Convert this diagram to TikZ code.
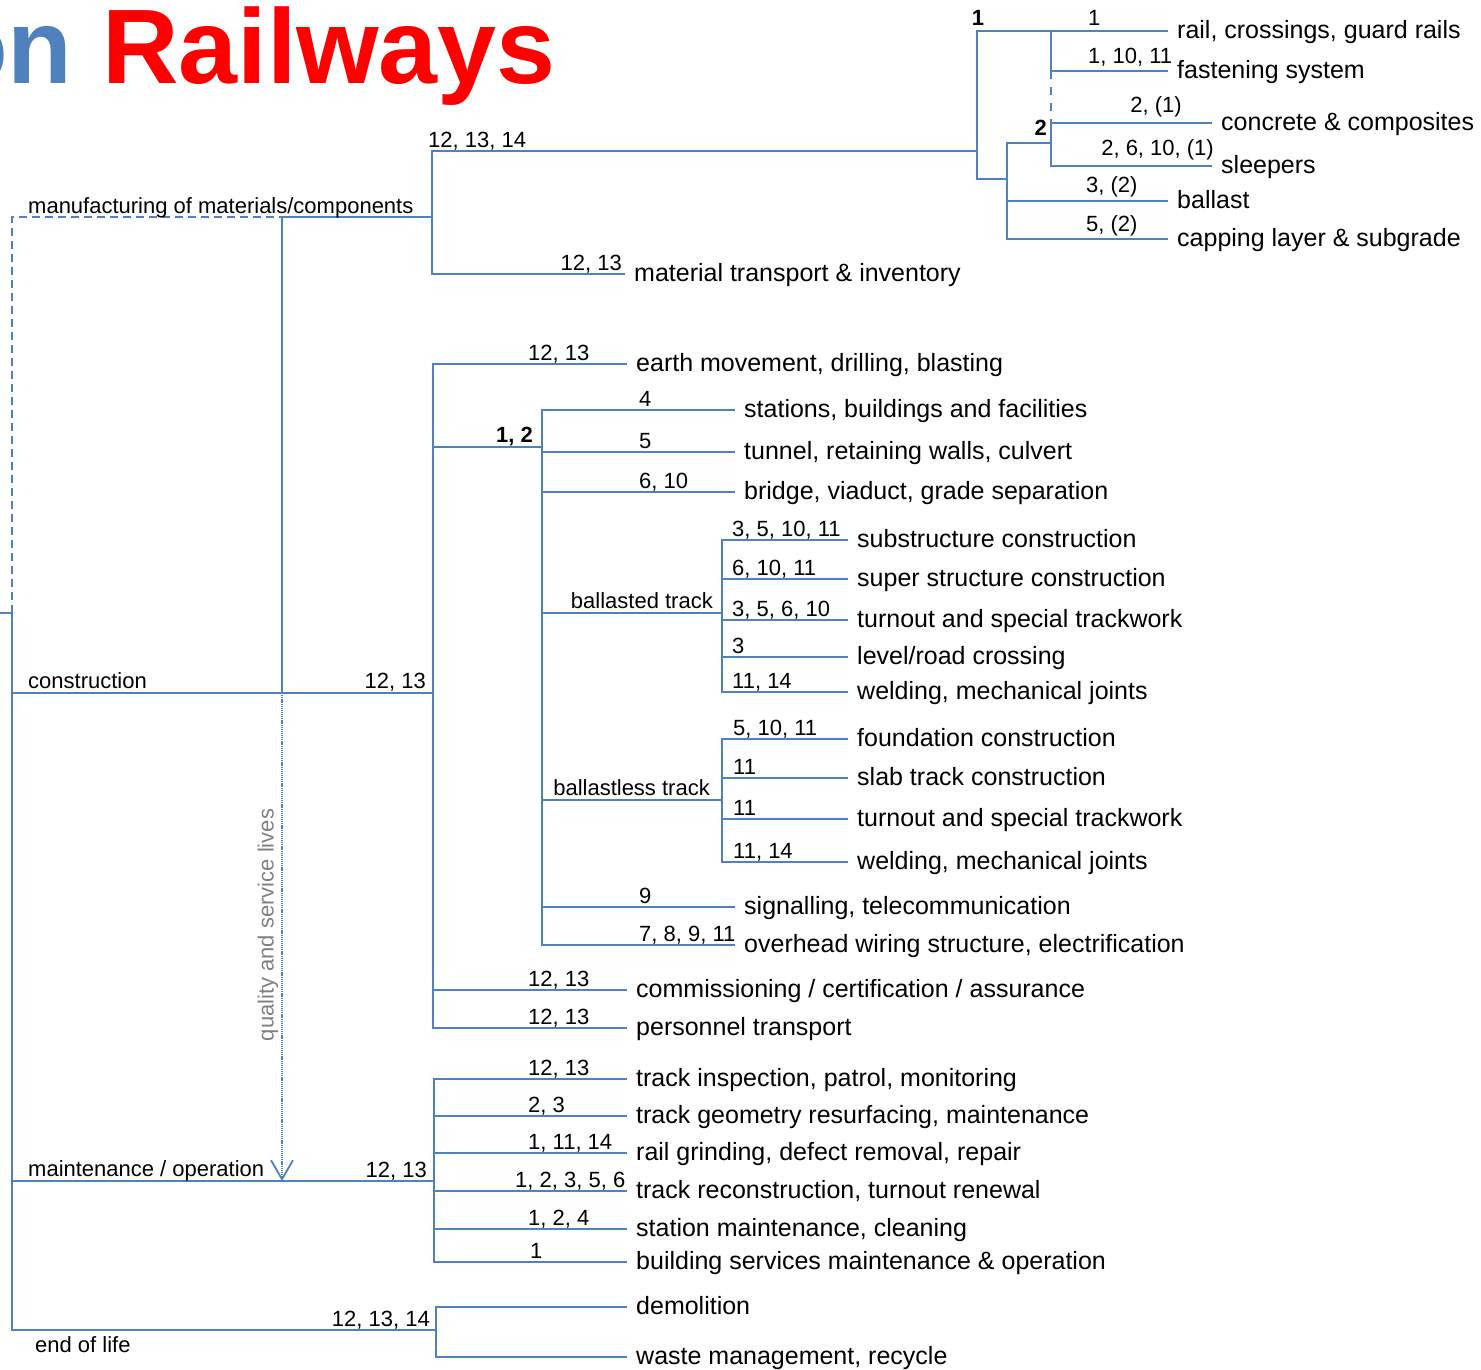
\documentclass[tikz,border=0pt]{standalone}
\usepackage{fontspec}
\setmainfont{Liberation Sans}
\usetikzlibrary{arrows.meta}
\definecolor{linkblue}{RGB}{79,129,189}
\definecolor{titlered}{RGB}{255,0,0}

\begin{document}
\begin{tikzpicture}[x=1pt,y=-1pt]
    \tikzset{link/.style={draw=linkblue, line width=1.3pt}}
    \tikzset{leaf/.style={anchor=west, inner xsep=9pt, inner ysep=0pt, text height=18pt, text depth=3pt, font=\fontsize{25}{30}\selectfont}}
    \tikzset{num/.style={inner sep=0pt, font=\fontsize{22}{26}\selectfont}}
    \tikzset{bold/.style={num, font=\fontsize{22}{26}\selectfont\bfseries}}
    \tikzset{phase/.style={num, anchor=base west}}
    \useasboundingbox (0,0) rectangle (1481,1370);

    \node[anchor=base east, inner sep=0pt, text=titlered, font={\fontsize{106}{120}\selectfont\bfseries}] (title) at (556,84) {\textcolor{linkblue}{on} Railways};

    \coordinate (stub) at (0,613);
    \coordinate (root) at (12,613);
    \coordinate (manu) at (282,217);
    \coordinate (cons) at (282,693);
    \coordinate (life) at (282,1181);
    \coordinate (manu-fork) at (432,217);
    \coordinate (cons-fork) at (433,693);
    \coordinate (main-fork) at (434,1181);
    \coordinate (end-fork) at (436,1330);

    \draw[link] (stub) -- (root);
    \draw[link, dash pattern=on 8pt off 5pt] (root) |- (manu);
    \draw[link] (manu) -- (manu-fork);
    \draw[link] (manu) -- (cons);
    \draw[link] (root) |- (cons-fork);
    \draw[link] (root) |- (main-fork);
    \draw[link] (root) |- (end-fork);
    \draw[link, line width=1.2pt, dash pattern=on 1.2pt off 0.9pt, -{Straight Barb[length=19pt, width=22pt, line width=1.8pt]}] (cons) -- (life);

    \node[phase] at (28,213) {manufacturing of materials/components};
    \node[phase] at (28,688) {construction};
    \node[phase] at (28,1176) {maintenance / operation};
    \node[phase] at (35,1352) {end of life};
    \node[num, rotate=90, text=gray] (quality) at (268,925) {quality and service lives};

    \coordinate (comp) at (977,151);
    \node[leaf] (transport) at (625,274) {material transport \& inventory};
    \draw[link] (manu-fork) |- (comp);
    \draw[link] (manu-fork) |- (transport.west);
    \node[num, anchor=base west] at (428,148) {12, 13, 14};
    \node[num, anchor=base east] at (622,270) {12, 13};

    \node[leaf] (rail) at (1168,31) {rail, crossings, guard rails};
    \node[leaf] (fasten) at (1168,71) {fastening system};
    \node[leaf] (concrete) at (1212,123) {concrete \& composites};
    \node[leaf] (sleeper) at (1212,166) {sleepers};
    \node[leaf] (ballast) at (1168,201) {ballast};
    \node[leaf] (capping) at (1168,239) {capping layer \& subgrade};
    \coordinate (rails) at (1051,31);
    \coordinate (bed) at (1007,179);
    \coordinate (bed-top) at (1007,143);
    \coordinate (sleeper-fork) at (1051,143);
    \draw[link] (comp) |- (rail.west);
    \draw[link] (comp) |- (bed);
    \draw[link] (rails) |- (fasten.west);
    \draw[link, dash pattern=on 8pt off 8pt] (fasten.west -| rails) -- (concrete.west -| rails);
    \draw[link] (bed) |- (bed-top) -- (sleeper-fork);
    \draw[link] (sleeper-fork) |- (concrete.west);
    \draw[link] (sleeper-fork) |- (sleeper.west);
    \draw[link] (bed) |- (ballast.west);
    \draw[link] (bed) |- (capping.west);
    \node[bold, anchor=base] at (978,26) {1};
    \node[num, anchor=base west] at (1088,26) {1};
    \node[num, anchor=base west] at (1088,64) {1, 10, 11};
    \node[num, anchor=base east] at (1182,113) {2, (1)};
    \node[num, anchor=base east] at (1214,156) {2, 6, 10, (1)};
    \node[bold, anchor=base east] at (1047,136) {2};
    \node[num, anchor=base west] at (1086,193) {3, (2)};
    \node[num, anchor=base west] at (1086,231) {5, (2)};

    \node[num, anchor=base east] at (426,688) {12, 13};
    \foreach \y/\n/\t in {364/{12, 13}/{earth movement, drilling, blasting}, 990/{12, 13}/{commissioning / certification / assurance}, 1028/{12, 13}/{personnel transport}} {
      \node[leaf] (c\y) at (627,\y) {\t};
      \draw[link] (cons-fork) |- (c\y.west);
      \node[num, anchor=base west] at (528,\y-4) {\n};
    }

    \coordinate (works) at (542,447);
    \draw[link] (cons-fork) |- (works);
    \node[bold, anchor=base east] at (533,442) {1, 2};
    \foreach \y/\n/\t in {410/4/{stations, buildings and facilities}, 452/5/{tunnel, retaining walls, culvert}, 492/{6, 10}/{bridge, viaduct, grade separation}, 907/9/{signalling, telecommunication}, 945/{7, 8, 9, 11}/{overhead wiring structure, electrification}} {
      \node[leaf] (w\y) at (735,\y) {\t};
      \draw[link] (works) |- (w\y.west);
      \node[num, anchor=base west] at (639,\y-4) {\n};
    }

    \coordinate (ballasted) at (722,613);
    \draw[link] (works) |- (ballasted);
    \node[num, anchor=base east] at (713,608) {ballasted track};
    \foreach \y/\n/\t in {540/{3, 5, 10, 11}/{substructure construction}, 579/{6, 10, 11}/{super structure construction}, 620/{3, 5, 6, 10}/{turnout and special trackwork}, 657/3/{level/road crossing}, 692/{11, 14}/{welding, mechanical joints}} {
      \node[leaf] (bt\y) at (848,\y) {\t};
      \draw[link] (ballasted) |- (bt\y.west);
      \node[num, anchor=base west] at (732,\y-4) {\n};
    }

    \coordinate (slab) at (722,800);
    \draw[link] (works) |- (slab);
    \node[num, anchor=base east] at (710,795) {ballastless track};
    \foreach \y/\n/\t in {739/{5, 10, 11}/{foundation construction}, 778/11/{slab track construction}, 819/11/{turnout and special trackwork}, 862/{11, 14}/{welding, mechanical joints}} {
      \node[leaf] (st\y) at (848,\y) {\t};
      \draw[link] (slab) |- (st\y.west);
      \node[num, anchor=base west] at (733,\y-4) {\n};
    }

    \node[num, anchor=base east] at (427,1177) {12, 13};
    \foreach \y/\x/\n/\t in {1079/528/{12, 13}/{track inspection, patrol, monitoring}, 1116/528/{2, 3}/{track geometry resurfacing, maintenance}, 1153/528/{1, 11, 14}/{rail grinding, defect removal, repair}, 1191/515/{1, 2, 3, 5, 6}/{track reconstruction, turnout renewal}, 1229/528/{1, 2, 4}/{station maintenance, cleaning}, 1262/530/1/{building services maintenance \& operation}} {
      \node[leaf] (m\y) at (627,\y) {\t};
      \draw[link] (main-fork) |- (m\y.west);
      \node[num, anchor=base west] at (\x,\y-4) {\n};
    }

    \node[num, anchor=base east] at (430,1326) {12, 13, 14};
    \foreach \y/\t in {1307/demolition, 1357/{waste management, recycle}} {
      \node[leaf] (e\y) at (627,\y) {\t};
      \draw[link] (end-fork) |- (e\y.west);
    }
\end{tikzpicture}
\end{document}
